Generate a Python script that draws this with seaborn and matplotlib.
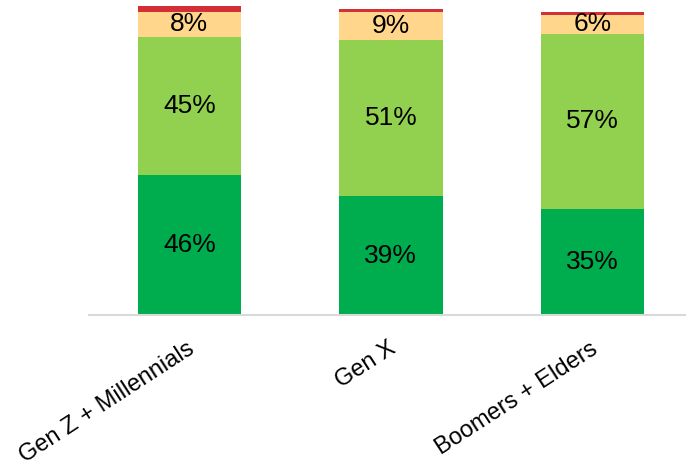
import numpy as np
import pandas as pd
import matplotlib
matplotlib.use("Agg")
import matplotlib.pyplot as plt
import matplotlib.transforms as mtransforms
import seaborn as sns

categories = ["Gen Z + Millennials", "Gen X", "Boomers + Elders"]
dark_green = [46.0, 39.0, 35.0]
light_green = [45.3, 51.3, 57.3]
orange = [8.2, 9.2, 6.2]
red = [1.9, 0.9, 1.0]
labels_dark = ["46%", "39%", "35%"]
labels_light = ["45%", "51%", "57%"]
labels_orange = ["8%", "9%", "6%"]

colors = ["#00AD4E", "#92D050", "#FFD68C", "#D32F36"]

sns.set_theme(style="white")
plt.rcParams["font.family"] = ["Liberation Sans", "DejaVu Sans"]

fig = plt.figure(figsize=(6.86, 4.69), dpi=100)
ax = fig.add_axes([0.1293, 0.3273, 0.8707, 0.6727])

layers = [dark_green, light_green, orange, red]
cum = np.cumsum(np.array(layers), axis=0)

# draw tallest (cumulative) first, then overlay lower layers
for i in range(len(layers) - 1, -1, -1):
    df = pd.DataFrame({"cat": categories, "val": cum[i]})
    sns.barplot(data=df, x="cat", y="val", color=colors[i], width=0.513,
                saturation=1, ax=ax, linewidth=0, errorbar=None)

# segment labels
label_sets = [labels_dark, labels_light, labels_orange]
for li, labs in enumerate(label_sets):
    for j, lab in enumerate(labs):
        base = cum[li - 1][j] if li > 0 else 0
        mid = base + layers[li][j] / 2
        ax.text(j, mid, lab, ha="center", va="center", fontsize=19, color="black")

ax.set_xlim(-0.5, 2.465)
ax.set_ylim(0, 103.3)
ax.set_xlabel("")
ax.set_ylabel("")
ax.set_yticks([])
for s in ["top", "right", "left"]:
    ax.spines[s].set_visible(False)
ax.spines["bottom"].set_color("#D9D9D9")
ax.spines["bottom"].set_linewidth(1.5)
ax.tick_params(axis="x", length=0, pad=16)

offset = mtransforms.ScaledTranslation(-3 / 100, 0, fig.dpi_scale_trans)
for lbl in ax.get_xticklabels():
    lbl.set_rotation(33)
    lbl.set_ha("right")
    lbl.set_rotation_mode("anchor")
    lbl.set_fontsize(17)
    lbl.set_color("black")
    lbl.set_transform(lbl.get_transform() + offset)

fig.savefig("out.png", dpi=100)
